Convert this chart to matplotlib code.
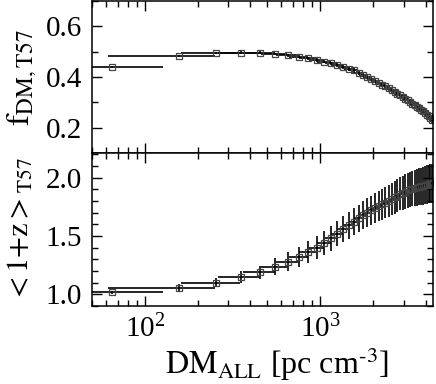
import numpy as np
import matplotlib
matplotlib.use("Agg")
from matplotlib import pyplot as plt
from matplotlib.ticker import MultipleLocator, LogLocator, NullFormatter

plt.rcParams['font.family'] = ['Liberation Serif', 'DejaVu Serif']
plt.rcParams['mathtext.fontset'] = 'stix'

# DM bin centres [pc cm^-3]
dm = [65, 157, 256, 356, 456, 556, 656, 756, 856, 956,
      1056, 1156, 1256, 1356, 1456, 1556, 1656, 1756, 1856, 1956,
      2056, 2156, 2256, 2356, 2456, 2556, 2656, 2756, 2856, 2956,
      3056, 3156, 3256, 3356, 3456, 3556, 3656, 3756, 3856, 3956,
      4056, 4156, 4256, 4356]
dm_err = [62] + [95] * 43

# fraction f_DM,T57
f_dm = [0.439, 0.482, 0.494, 0.497, 0.497, 0.492, 0.486, 0.480, 0.474, 0.467,
        0.461, 0.454, 0.447, 0.440, 0.433, 0.426, 0.418, 0.410, 0.402, 0.394,
        0.386, 0.378, 0.370, 0.363, 0.356, 0.349, 0.342, 0.335, 0.328, 0.321,
        0.315, 0.308, 0.302, 0.295, 0.289, 0.283, 0.277, 0.271, 0.265, 0.259,
        0.252, 0.245, 0.238, 0.230]
f_err = [0.004, 0.004, 0.004, 0.005, 0.005, 0.005, 0.006, 0.006, 0.006, 0.007,
         0.007, 0.007, 0.008, 0.008, 0.008, 0.009, 0.009, 0.009, 0.010, 0.010,
         0.010, 0.010, 0.011, 0.011, 0.011, 0.011, 0.012, 0.012, 0.012, 0.012,
         0.013, 0.013, 0.013, 0.013, 0.014, 0.014, 0.014, 0.014, 0.015, 0.015,
         0.015, 0.015, 0.016, 0.016]

# <1+z>_T57
z_mean = [1.017, 1.057, 1.100, 1.150, 1.190, 1.237, 1.280, 1.320, 1.360, 1.400,
          1.440, 1.480, 1.520, 1.560, 1.590, 1.620, 1.650, 1.680, 1.700, 1.720,
          1.740, 1.755, 1.770, 1.785, 1.800, 1.815, 1.830, 1.845, 1.860, 1.870,
          1.880, 1.890, 1.900, 1.905, 1.910, 1.915, 1.920, 1.925, 1.930, 1.935,
          1.940, 1.945, 1.950, 1.950]
z_err = [0.015, 0.030, 0.040, 0.050, 0.055, 0.070, 0.080, 0.088, 0.095, 0.100,
         0.104, 0.107, 0.110, 0.112, 0.114, 0.116, 0.118, 0.120, 0.122, 0.124,
         0.126, 0.128, 0.130, 0.132, 0.134, 0.136, 0.138, 0.140, 0.142, 0.144,
         0.146, 0.148, 0.150, 0.152, 0.154, 0.156, 0.158, 0.160, 0.161, 0.162,
         0.163, 0.164, 0.165, 0.165]

fig = plt.figure(figsize=(4.36, 3.84), dpi=100)
left, right, top, bottom, mid = 0.211, 0.9938, 0.997, 0.203, 0.6016
ax1 = fig.add_axes([left, mid, right - left, top - mid])
ax2 = fig.add_axes([left, bottom, right - left, mid - bottom], sharex=ax1)

style = dict(fmt='s', ms=4, mfc='none', mec='#444444', mew=0.9,
             ecolor='black', elinewidth=1.2, capsize=0, lw=0)
ax1.errorbar(dm, f_dm, xerr=dm_err, yerr=f_err, **style)
ax2.errorbar(dm, z_mean, xerr=dm_err, yerr=z_err, **style)

ax1.set_xscale('log')
ax1.set_xlim(50, 4420)
ax1.set_ylim(0.1, 0.7)
ax2.set_ylim(0.9, 2.21)

ax1.yaxis.set_major_locator(MultipleLocator(0.2))
ax1.yaxis.set_minor_locator(MultipleLocator(0.1))
ax2.yaxis.set_major_locator(MultipleLocator(0.5))
ax2.yaxis.set_minor_locator(MultipleLocator(0.1))
ax2.xaxis.set_major_locator(LogLocator(base=10))
ax2.xaxis.set_minor_locator(LogLocator(base=10, subs=np.arange(2, 10)))
ax2.xaxis.set_minor_formatter(NullFormatter())

for ax in (ax1, ax2):
    ax.tick_params(which='both', direction='in', top=True, right=True,
                   labelsize=21, width=1.0)
    ax.tick_params(which='major', length=7)
    ax.tick_params(which='minor', length=4)
    ax.tick_params(axis='y', pad=7)
    for s in ax.spines.values():
        s.set_linewidth(1.1)
ax1.tick_params(labelbottom=False)
ax2.tick_params(axis='x', pad=6)

ax1.set_ylabel(r'$\mathrm{f_{DM,T57}}$', fontsize=24)
ax2.set_ylabel(r'$\mathrm{{<}1{+}z{>}_{T57}}$', fontsize=22)
ax1.yaxis.set_label_coords(-0.155, 0.5)
ax2.yaxis.set_label_coords(-0.165, 0.5)
fig.text(165 / 436, 10 / 384, r'$\mathrm{DM_{ALL}}$ [pc cm$^{\text{-3}}$]',
         fontsize=23, ha='left', va='baseline')

fig.savefig('out.png', dpi=100)
